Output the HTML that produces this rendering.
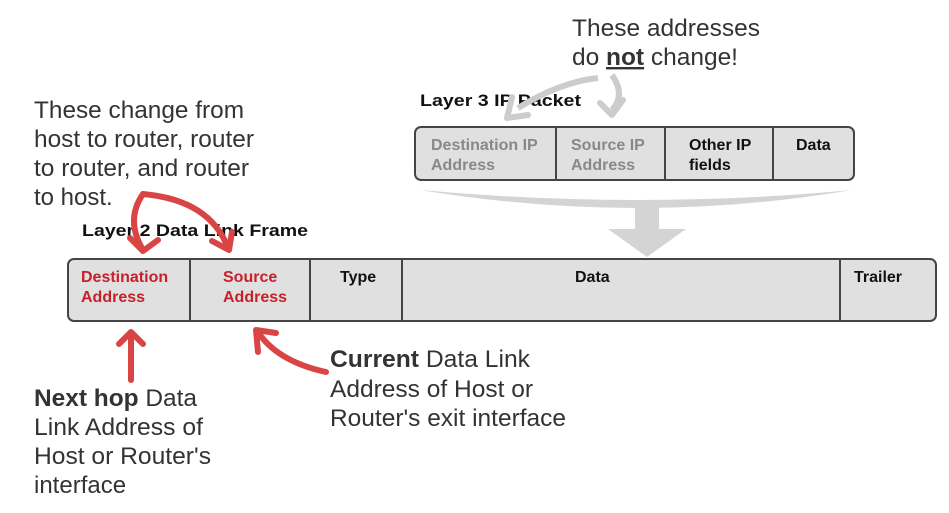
<!DOCTYPE html>
<html><head><style>
html,body{margin:0;padding:0;background:#fff;}
svg{display:block;font-family:"Liberation Sans",Arial,sans-serif;}
</style></head><body>
<svg width="949" height="513" viewBox="0 0 949 513" xmlns="http://www.w3.org/2000/svg">
<g font-size="24" fill="#333">
<text x="572" y="36" textLength="188" lengthAdjust="spacingAndGlyphs">These addresses</text>
<text x="572" y="65" textLength="166" lengthAdjust="spacingAndGlyphs">do <tspan font-weight="bold" text-decoration="underline">not</tspan> change!</text>
<text x="34" y="118" textLength="210" lengthAdjust="spacingAndGlyphs">These change from</text>
<text x="34" y="147" textLength="220" lengthAdjust="spacingAndGlyphs">host to router, router</text>
<text x="34" y="176" textLength="215" lengthAdjust="spacingAndGlyphs">to router, and router</text>
<text x="34" y="205">to host.</text>
</g>
<text x="420" y="106" font-size="17" font-weight="bold" fill="#111" textLength="161" lengthAdjust="spacingAndGlyphs">Layer 3 IP Packet</text>
<path d="M598 78 Q560 82 518 108" stroke="#ccc" stroke-width="6" fill="none"/>
<path d="M507 118 L512 97 M507 118 L528 115" stroke="#ccc" stroke-width="6" fill="none" stroke-linecap="round"/>
<path d="M612 75 Q626 95 612 110" stroke="#ccc" stroke-width="6" fill="none"/>
<path d="M612 115 L600 103 M612 115 L623 100" stroke="#ccc" stroke-width="6" fill="none" stroke-linecap="round"/>
<rect x="415" y="127" width="439" height="53" rx="6" fill="#e0e0e0" stroke="#444" stroke-width="2"/>
<g stroke="#444" stroke-width="2"><line x1="556" y1="127" x2="556" y2="180"/><line x1="665" y1="127" x2="665" y2="180"/><line x1="773" y1="127" x2="773" y2="180"/></g>
<g font-size="16" font-weight="bold">
<text x="431" y="150" fill="#888">Destination IP</text><text x="431" y="170" fill="#888">Address</text>
<text x="571" y="150" fill="#888">Source IP</text><text x="571" y="170" fill="#888">Address</text>
<text x="689" y="150" fill="#111">Other IP</text><text x="689" y="170" fill="#111">fields</text>
<text x="796" y="150" fill="#111">Data</text>
</g>
<path d="M420 190 Q640 210 852 190 Q640 226 420 190 Z" fill="#d4d4d4"/>
<rect x="635" y="205" width="24" height="25" fill="#d4d4d4"/>
<path d="M608 229 L686 229 L647 257 Z" fill="#d4d4d4"/>
<text x="82" y="236" font-size="17" font-weight="bold" fill="#111" textLength="226" lengthAdjust="spacingAndGlyphs">Layer 2 Data Link Frame</text>
<rect x="68" y="259" width="868" height="62" rx="6" fill="#e0e0e0" stroke="#444" stroke-width="2"/>
<g stroke="#444" stroke-width="2"><line x1="190" y1="259" x2="190" y2="321"/><line x1="310" y1="259" x2="310" y2="321"/><line x1="402" y1="259" x2="402" y2="321"/><line x1="840" y1="259" x2="840" y2="321"/></g>
<g font-size="16" font-weight="bold">
<text x="81" y="282" fill="#c8202a">Destination</text><text x="81" y="302" fill="#c8202a">Address</text>
<text x="223" y="282" fill="#c8202a">Source</text><text x="223" y="302" fill="#c8202a">Address</text>
<text x="340" y="282" fill="#111">Type</text>
<text x="575" y="282" fill="#111">Data</text>
<text x="854" y="282" fill="#111">Trailer</text>
</g>
<g stroke="#d94545" stroke-width="6" fill="none" stroke-linecap="round" stroke-linejoin="round">
<path d="M143 194 Q125 220 143 250"/>
<path d="M130 238 L143 251 L158 240"/>
<path d="M143 194 Q210 200 228 248"/>
<path d="M212 241 L229 250 L232 232"/>
<path d="M131 380 L131 334"/>
<path d="M119 344 L131 332 L143 344"/>
<path d="M326 372 Q280 362 260 335"/>
<path d="M258 352 L256 330 L276 333"/>
</g>
<g font-size="24" fill="#333">
<text x="330" y="367" textLength="200" lengthAdjust="spacingAndGlyphs"><tspan font-weight="bold">Current</tspan> Data Link</text>
<text x="330" y="397" textLength="203" lengthAdjust="spacingAndGlyphs">Address of Host or</text>
<text x="330" y="426" textLength="236" lengthAdjust="spacingAndGlyphs">Router's exit interface</text>
<text x="34" y="406" textLength="163" lengthAdjust="spacingAndGlyphs"><tspan font-weight="bold">Next hop</tspan> Data</text>
<text x="34" y="435" textLength="169" lengthAdjust="spacingAndGlyphs">Link Address of</text>
<text x="34" y="464" textLength="177" lengthAdjust="spacingAndGlyphs">Host or Router's</text>
<text x="34" y="493">interface</text>
</g>
</svg>
</body></html>
